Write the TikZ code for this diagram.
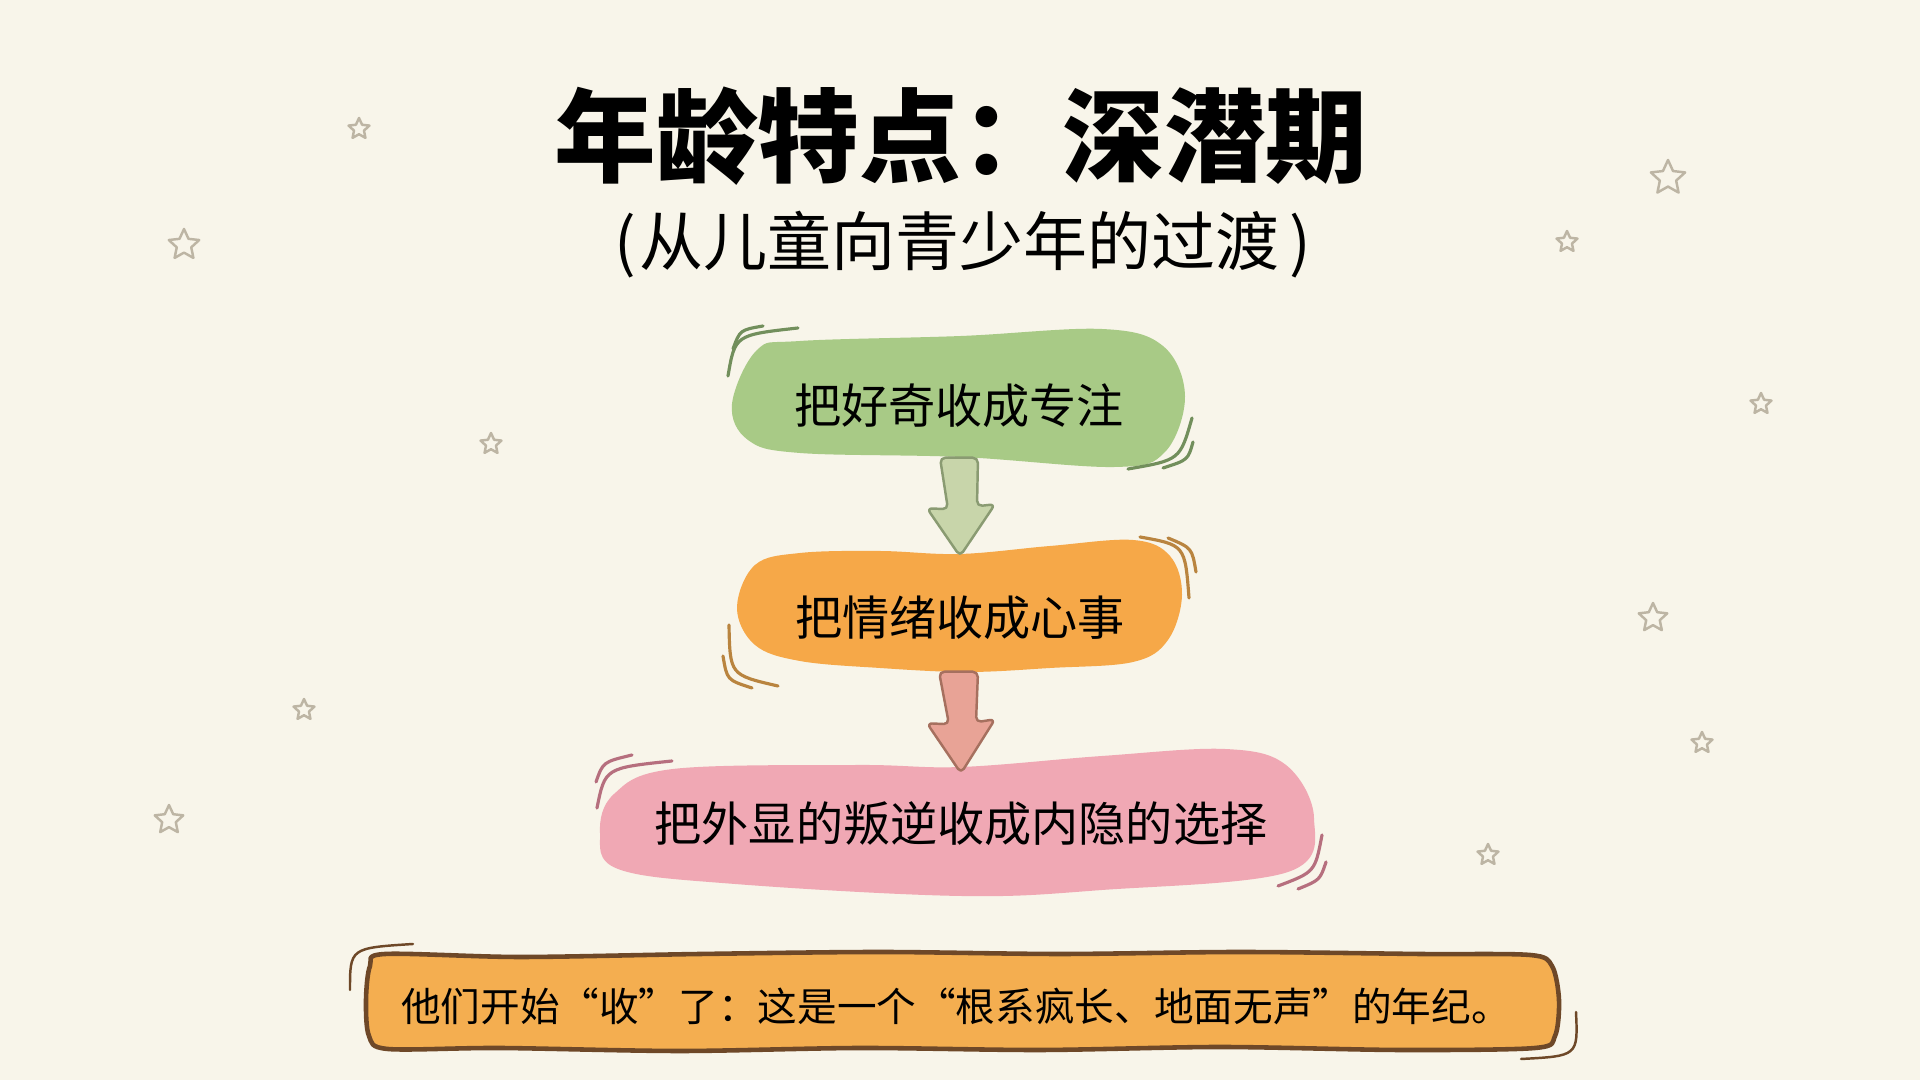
\documentclass[tikz,border=0pt]{standalone}
\usepackage{fontspec}
\setmainfont{Noto Sans CJK SC}
\usepackage{tikz}
\usetikzlibrary{calc,shapes.geometric}
\usepackage{xcolor}
\definecolor{paper}{HTML}{F8F5EA}
\definecolor{starline}{HTML}{BDB5A4}
\definecolor{leaf}{HTML}{A8CA86}
\definecolor{leafline}{HTML}{728F5C}
\definecolor{amber}{HTML}{F6A848}
\definecolor{amberline}{HTML}{B9843F}
\definecolor{rose}{HTML}{F0A8B4}
\definecolor{roseline}{HTML}{B66F7E}
\definecolor{garrowfill}{HTML}{C8D5AA}
\definecolor{garrowline}{HTML}{8A9B72}
\definecolor{parrowfill}{HTML}{E8A396}
\definecolor{parrowline}{HTML}{A6705F}
\definecolor{bannerfill}{HTML}{F4AE50}
\definecolor{bannerline}{HTML}{6E4828}

\begin{document}
\begin{tikzpicture}[x=0.01cm, y=-0.01cm, line join=round,
  blobtxt/.style={inner sep=0pt, minimum height=1.1cm, font=\fontsize{13.4}{16}\selectfont},
  swoosh/.style={line width=0.9pt, line cap=round},
  flow/.style={line width=0.7pt, rounded corners=1.5pt},
  twinkle/.style={star, star points=5, star point ratio=2.1, draw=starline, line width=0.7pt, inner sep=0pt}]
\useasboundingbox (0,0) rectangle (1920,1080);
\fill[paper] (0,0) rectangle (1920,1080);
% stars in the background
\foreach \x/\y/\s [count=\k] in {359/129/0.22, 184/245/0.32, 1668/178/0.36, 1567/242/0.22, 1761/404/0.22,
  491/444/0.22, 1653/618/0.30, 304/710/0.22, 1702/743/0.22, 169/820/0.30, 1488/855/0.22}
  \node[twinkle, minimum size=\s cm] (star\k) at (\x,\y) {};
\node[font=\fontsize{28.9}{34}\selectfont\bfseries] (title) at (961,136) {年龄特点：深潜期};
\node[font=\fontsize{18.2}{22}\selectfont] (sub) at (963,245) {(\kern1pt 从儿童向青少年的过渡\kern3pt)};
% the three blobs
\fill[leaf] plot[smooth cycle, tension=0.6] coordinates {(732,404) (757,350) (800,341) (961,336) (1102,329)
  (1163,346) (1185,396) (1165,452) (1115,467) (961,457) (800,453) (748,440)};
\fill[amber] plot[smooth cycle, tension=0.6] coordinates {(737,608) (755,565) (800,553) (880,551) (960,554)
  (1050,546) (1133,540) (1170,556) (1182,595) (1168,640) (1133,662) (1050,668) (967,672) (880,668) (800,661) (755,645)};
\fill[rose] plot[smooth cycle, tension=0.6] coordinates {(600,833) (614,794) (673,769) (857,765) (961,767)
  (1102,756) (1225,749) (1286,765) (1314,818) (1288,872) (1102,890) (961,896) (735,884) (618,869)};
\draw[swoosh, leafline] (728,376) .. controls (735,335) .. (798,328);
\draw[swoosh, leafline] (733,349) .. controls (740,330) .. (763,326);
\draw[swoosh, leafline] (1128,469) .. controls (1180,460) .. (1192,418);
\draw[swoosh, leafline] (1163,468) .. controls (1188,460) .. (1193,442);
\draw[swoosh, amberline] (1140,537) .. controls (1185,545) .. (1189,598);
\draw[swoosh, amberline] (1168,538) .. controls (1192,548) .. (1196,572);
\draw[swoosh, amberline] (729,625) .. controls (730,675) .. (778,686);
\draw[swoosh, amberline] (723,656) .. controls (727,680) .. (752,688);
\draw[swoosh, roseline] (597,808) .. controls (605,768) .. (672,761);
\draw[swoosh, roseline] (596,782) .. controls (603,762) .. (632,755);
\draw[swoosh, roseline] (1278,886) .. controls (1315,872) .. (1322,835);
\draw[swoosh, roseline] (1298,889) .. controls (1320,880) .. (1326,862);
\node[blobtxt] (curio) at (959,406) {把好奇收成专注};
\node[blobtxt] (mood) at (960,618) {把情绪收成心事};
\node[blobtxt] (rebel) at (961,824) {把外显的叛逆收成内隐的选择};
% arrows between the blobs
\filldraw[flow, fill=garrowfill, draw=garrowline] ($(curio.south)+(-19,-4)$) -- ($(mood.north)+(-12,-53)$)
  -- ($(mood.north)+(-33,-54)$) -- ($(mood.north)+(0,-6)$) -- ($(mood.north)+(35,-58)$)
  -- ($(mood.north)+(17,-56)$) -- ($(curio.south)+(19,-4)$) -- cycle;
\filldraw[flow, fill=parrowfill, draw=parrowline] ($(mood.south)+(-21,-2)$) -- ($(rebel.north)+(-12,-44)$)
  -- ($(rebel.north)+(-34,-45)$) -- ($(rebel.north)+(0,5)$) -- ($(rebel.north)+(34,-49)$)
  -- ($(rebel.north)+(15,-46)$) -- ($(mood.south)+(18,-2)$) -- cycle;
% bottom banner
\filldraw[fill=bannerfill, draw=bannerline, line width=1.3pt] plot[smooth cycle, tension=0.5] coordinates {
  (385,954) (520,957) (700,954) (880,952) (1060,954) (1240,952) (1420,954) (1530,955) (1552,966) (1559,1000)
  (1555,1036) (1535,1048) (1400,1050) (1220,1047) (1040,1050) (860,1048) (680,1051) (500,1048) (388,1049)
  (369,1036) (366,1000) (370,966)};
\draw[bannerline, line width=0.7pt, line cap=round] (350,990) .. controls (350,948) .. (413,944);
\draw[bannerline, line width=0.7pt, line cap=round] (1576,1012) .. controls (1578,1056) .. (1521,1059);
\node[font=\fontsize{11.27}{14}\selectfont] (motto) at (956,1006) {他们开始“收”了：这是一个“根系疯长、地面无声”的年纪。};
\end{tikzpicture}
\end{document}
